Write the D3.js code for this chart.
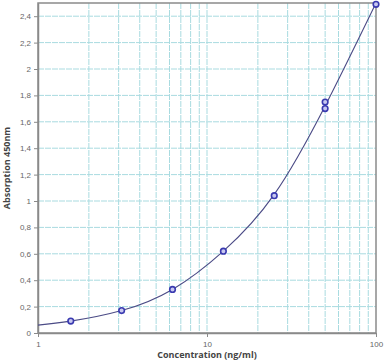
<!DOCTYPE html>
<html>
<head>
<meta charset="utf-8">
<script src="https://cdn.jsdelivr.net/npm/d3@7"></script>
<style>
  body { margin: 0; background: #fff; }
  svg { display: block; font-family: "Open Sans", "DejaVu Sans", sans-serif; }
</style>
</head>
<body>
<svg id="chart" width="392" height="363"></svg>
<script>
// measured standards (ng/ml -> OD 450nm)
const concentrations = [1.5625, 3.125, 6.25, 12.5, 25, 50, 50, 100];
const absorbance = [0.09, 0.17, 0.33, 0.62, 1.04, 1.70, 1.75, 2.49];

// fitted curve
const curveConc = [1, 1.5625, 3.125, 6.25, 12.5, 25, 50, 100];
const curveAbs = [0.06, 0.09, 0.17, 0.33, 0.62, 1.05, 1.72, 2.5];

const xTicks = [1, 10, 100];
const yTicks = [0, 0.2, 0.4, 0.6, 0.8, 1, 1.2, 1.4, 1.6, 1.8, 2, 2.2, 2.4];

const margin = { top: 3, right: 16, bottom: 30, left: 38 };
const width = 392, height = 363;
const innerW = width - margin.left - margin.right;
const innerH = height - margin.top - margin.bottom;

const svg = d3.select("#chart")
  .append("g")
  .attr("transform", `translate(${margin.left},${margin.top})`);

const x = d3.scaleLog().domain([1, 100]).range([0, innerW]);
const y = d3.scaleLinear().domain([0, 2.5]).range([innerH, 0]);

const fmt = d => String(d).replace(".", ",");

// grid
const minorX = [];
for (let dec = 1; dec < 100; dec *= 10)
  for (let k = 2; k <= 9; k++) minorX.push(dec * k);
minorX.push(10);

svg.append("g")
  .selectAll("line")
  .data(minorX)
  .join("line")
  .attr("x1", d => x(d)).attr("x2", d => x(d))
  .attr("y1", 0).attr("y2", innerH)
  .attr("stroke", "#a9dbe0")
  .attr("stroke-width", 1)
  .attr("stroke-dasharray", "6,1");

svg.append("g")
  .selectAll("line")
  .data(yTicks.filter(d => d > 0))
  .join("line")
  .attr("x1", 0).attr("x2", innerW)
  .attr("y1", d => y(d)).attr("y2", d => y(d))
  .attr("stroke", "#a9dbe0")
  .attr("stroke-width", 1)
  .attr("stroke-dasharray", "6,1");

// frame
svg.append("rect")
  .attr("width", innerW).attr("height", innerH)
  .attr("fill", "none")
  .attr("stroke", "#8a8a8a")
  .attr("stroke-width", 1.5);

// axes
const xAxis = d3.axisBottom(x).tickValues(xTicks).tickFormat(d3.format("d")).tickSize(4).tickSizeOuter(0);
const yAxis = d3.axisLeft(y).tickValues(yTicks).tickFormat(fmt).tickSize(4).tickSizeOuter(0);

svg.append("g")
  .attr("transform", `translate(0,${innerH})`)
  .call(xAxis)
  .call(g => g.select(".domain").attr("stroke", "#8a8a8a").attr("stroke-width", 1.5))
  .call(g => g.selectAll(".tick line").attr("stroke", "#8a8a8a"))
  .call(g => g.selectAll(".tick text").attr("fill", "#666").attr("font-size", 8).attr("dy", "0.9em"));

svg.append("g")
  .call(yAxis)
  .call(g => g.select(".domain").attr("stroke", "#8a8a8a").attr("stroke-width", 1.5))
  .call(g => g.selectAll(".tick line").attr("stroke", "#8a8a8a"))
  .call(g => g.selectAll(".tick text").attr("fill", "#666").attr("font-size", 8));

svg.append("text")
  .attr("x", innerW / 2)
  .attr("y", innerH + 25)
  .attr("text-anchor", "middle")
  .attr("font-size", 9)
  .attr("font-weight", "bold")
  .attr("fill", "#444")
  .text("Concentration (ng/ml)");

svg.append("text")
  .attr("transform", `translate(${-28},${innerH / 2}) rotate(-90)`)
  .attr("text-anchor", "middle")
  .attr("font-size", 9)
  .attr("font-weight", "bold")
  .attr("fill", "#444")
  .text("Absorption 450nm");

// curve
const curve = curveConc.map((c, i) => ({ c, v: curveAbs[i] }));
const line = d3.line()
  .x(d => x(d.c))
  .y(d => y(d.v))
  .curve(d3.curveNatural);

svg.append("path")
  .datum(curve)
  .attr("d", line)
  .attr("fill", "none")
  .attr("stroke", "#4b4b86")
  .attr("stroke-width", 1.1);

// points
const pts = concentrations.map((c, i) => ({ c, v: absorbance[i] }));
svg.append("g")
  .selectAll("circle")
  .data(pts)
  .join("circle")
  .attr("cx", d => x(d.c))
  .attr("cy", d => y(d.v))
  .attr("r", 2.8)
  .attr("fill", "#c8c8f0")
  .attr("stroke", "#3a3ab0")
  .attr("stroke-width", 1.6);
</script>
</body>
</html>
